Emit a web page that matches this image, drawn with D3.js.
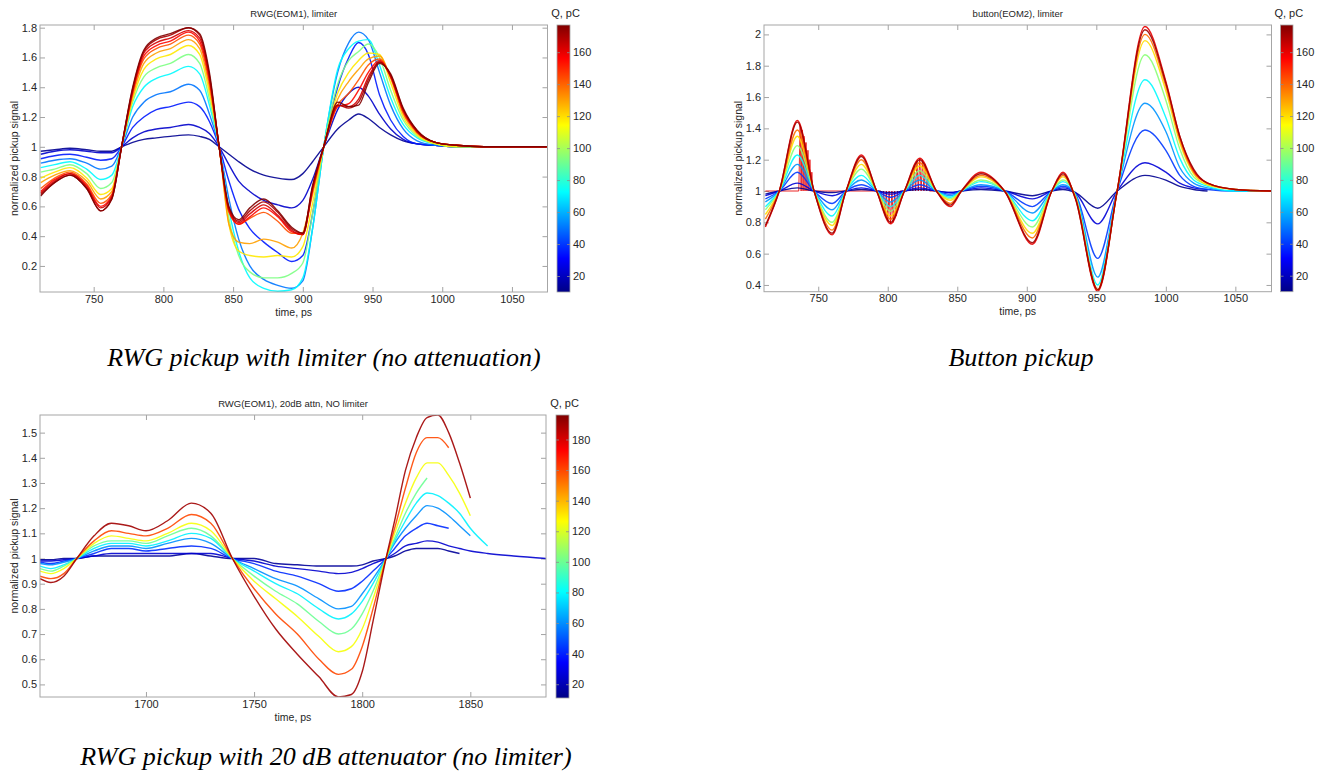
<!DOCTYPE html>
<html><head><meta charset="utf-8">
<script src="https://cdn.jsdelivr.net/npm/d3@7"></script>
<style>
body{margin:0;background:#fff}
text{font-family:"Liberation Sans",Arial,sans-serif;fill:#262626}
.cap{font-family:"Liberation Serif","Times New Roman",serif;font-style:italic;fill:#000}
</style>
</head><body><svg id="c" width="1324" height="783"></svg>
<script>
// ---------- Panel 1: RWG(EOM1), limiter ----------
const rwgLimTime = [712,722,733,745,755,763,770, 778,786,795,805,818,826,833,840, 847,854,862,872,882,892,900,907,915, 925,933,940,947,955,963,972,982, 995,1010,1030,1050,1075];
const rwgLimQ = [12,22,35,50,72,93,118,130,143,155,163,170,177];
const rwgLimSignals = [
 [0.97,0.98,0.99,0.98,0.97,0.97,1.00, 1.03,1.05,1.06,1.07,1.08,1.07,1.05,1.00, 0.95,0.90,0.85,0.81,0.79,0.78,0.82,0.90,1.00, 1.12,1.18,1.22,1.19,1.13,1.08,1.04,1.02, 1.01,1.00,1.00,null,null],
 [0.95,0.97,0.98,0.97,0.96,0.96,1.00, 1.06,1.10,1.12,1.13,1.15,1.13,1.09,1.00, 0.88,0.77,0.70,0.64,0.61,0.59,0.64,0.78,1.00, 1.25,1.36,1.40,1.34,1.22,1.12,1.05,1.02, 1.01,1.00,1.00,null,null],
 [0.92,0.94,0.95,0.93,0.91,0.92,1.00, 1.13,1.20,1.25,1.27,1.30,1.27,1.17,1.00, 0.77,0.58,0.45,0.36,0.29,0.23,0.27,0.55,1.00, 1.40,1.60,1.70,1.62,1.35,1.18,1.07,1.02, 1.01,1.00,1.00,null,null],
 [0.89,0.91,0.92,0.89,0.85,0.87,1.00, 1.20,1.30,1.35,1.37,1.42,1.38,1.22,1.00, 0.65,0.38,0.20,0.11,0.07,0.05,0.10,0.45,1.00, 1.50,1.70,1.77,1.72,1.50,1.28,1.12,1.04, 1.01,1.00,1.00,1.00,null],
 [0.86,0.88,0.90,0.85,0.78,0.81,1.00, 1.27,1.40,1.46,1.49,1.54,1.49,1.28,1.00, 0.58,0.30,0.12,0.05,0.03,0.04,0.12,0.45,1.00, 1.52,1.66,1.71,1.72,1.55,1.33,1.15,1.06, 1.02,1.00,1.00,1.00,null],
 [0.83,0.85,0.88,0.82,0.72,0.76,1.00, 1.30,1.47,1.53,1.56,1.62,1.56,1.32,1.00, 0.52,0.27,0.16,0.12,0.12,0.15,0.22,0.55,1.00, 1.42,1.58,1.64,1.69,1.60,1.38,1.18,1.07, 1.02,1.00,1.00,1.00,null],
 [0.79,0.83,0.86,0.79,0.68,0.72,1.00, 1.32,1.52,1.59,1.62,1.68,1.62,1.36,1.00, 0.48,0.30,0.27,0.26,0.27,0.26,0.33,0.62,1.00, 1.36,1.50,1.58,1.63,1.62,1.43,1.20,1.08, 1.02,1.00,1.00,1.00,null],
 [0.76,0.81,0.84,0.77,0.65,0.70,1.00, 1.34,1.56,1.63,1.66,1.72,1.66,1.40,1.00, 0.48,0.36,0.35,0.38,0.36,0.32,0.42,0.68,1.00, 1.32,1.44,1.52,1.59,1.61,1.46,1.22,1.09, 1.03,1.01,1.00,1.00,1.00],
 [0.72,0.79,0.83,0.75,0.62,0.68,1.00, 1.36,1.59,1.66,1.69,1.75,1.69,1.43,1.00, 0.56,0.48,0.52,0.56,0.50,0.42,0.42,0.70,1.00, 1.28,1.36,1.45,1.55,1.59,1.47,1.23,1.10, 1.03,1.01,1.00,1.00,1.00],
 [0.70,0.78,0.82,0.74,0.60,0.67,1.00, 1.37,1.61,1.68,1.71,1.77,1.71,1.45,1.00, 0.57,0.48,0.53,0.59,0.53,0.43,0.41,0.71,1.00, 1.27,1.29,1.38,1.50,1.58,1.47,1.24,1.10, 1.03,1.01,1.00,1.00,1.00],
 [0.69,0.77,0.82,0.73,0.59,0.66,1.00, 1.38,1.63,1.70,1.73,1.78,1.73,1.47,1.00, 0.58,0.49,0.55,0.61,0.54,0.44,0.41,0.72,1.00, 1.28,1.27,1.32,1.47,1.57,1.48,1.25,1.10, 1.03,1.01,1.00,1.00,1.00],
 [0.68,0.76,0.81,0.72,0.57,0.65,1.00, 1.39,1.64,1.72,1.75,1.80,1.75,1.48,1.00, 0.59,0.50,0.57,0.63,0.56,0.45,0.42,0.73,1.00, 1.28,1.26,1.30,1.45,1.57,1.48,1.25,1.11, 1.03,1.01,1.00,1.00,1.00],
 [0.67,0.76,0.81,0.72,0.57,0.65,1.00, 1.40,1.65,1.73,1.76,1.80,1.76,1.50,1.00, 0.60,0.51,0.59,0.65,0.57,0.46,0.42,0.74,1.00, 1.30,1.27,1.28,1.43,1.56,1.49,1.26,1.11, 1.03,1.01,1.00,1.00,1.00]
];
const rwgLimXTicks = [750,800,850,900,950,1000,1050];
const rwgLimYTicks = [0.2,0.4,0.6,0.8,1.0,1.2,1.4,1.6,1.8];
const rwgLimQTicks = [20,40,60,80,100,120,140,160];

// ---------- Panel 2: button(EOM2), limiter ----------
const buttonTime = [712,722,735,747,760,770, 781,792,802,812,823,835, 845,853,867,884,904,918, 926,935,951,965,985,1000, 1010,1020,1030,1050,1076];
const buttonQ = [12,24,40,55,72,95,120,138,160,172];
const buttonSignals = [
 [0.98,1.00,1.02,1.00,0.99,1.00, 1.01,1.00,0.99,1.00,1.01,1.00, 0.99,1.00,1.01,1.00,0.97,1.00, 1.01,0.99,0.89,1.00,1.10,1.07, 1.03,1.01,1.00,null,null],
 [0.97,1.00,1.05,1.00,0.97,1.00, 1.02,1.00,0.98,1.00,1.02,1.00, 0.99,1.00,1.02,1.00,0.95,1.00, 1.02,0.99,0.79,1.00,1.18,1.12, 1.05,1.02,1.01,null,null],
 [0.95,1.00,1.12,1.00,0.92,1.00, 1.04,1.00,0.96,1.00,1.04,1.00, 0.98,1.00,1.03,1.00,0.90,1.00, 1.03,0.98,0.57,1.00,1.39,1.26, 1.10,1.03,1.01,1.00,1.00],
 [0.93,1.00,1.17,1.00,0.88,1.00, 1.07,1.00,0.93,1.00,1.07,1.00, 0.97,1.00,1.04,1.00,0.86,1.00, 1.04,0.98,0.45,1.00,1.56,1.38, 1.15,1.05,1.02,1.00,1.00],
 [0.90,1.00,1.23,1.00,0.84,1.00, 1.10,1.00,0.90,1.00,1.10,1.00, 0.96,1.00,1.06,1.00,0.81,1.00, 1.06,0.97,0.40,1.00,1.71,1.47, 1.21,1.07,1.03,1.00,1.00],
 [0.88,1.00,1.29,1.00,0.80,1.00, 1.14,1.00,0.87,1.00,1.13,1.00, 0.95,1.00,1.07,1.00,0.77,1.00, 1.07,0.97,0.37,1.00,1.87,1.58, 1.27,1.09,1.04,1.01,1.00],
 [0.85,1.00,1.35,1.00,0.78,1.00, 1.17,1.00,0.84,1.00,1.16,1.00, 0.94,1.00,1.09,1.00,0.73,1.00, 1.09,0.96,0.37,1.00,1.96,1.64, 1.31,1.11,1.04,1.01,1.00],
 [0.82,1.00,1.39,1.00,0.75,1.00, 1.20,1.00,0.82,1.00,1.18,1.00, 0.92,1.00,1.10,1.00,0.70,1.00, 1.10,0.96,0.37,1.00,2.00,1.67, 1.33,1.12,1.05,1.01,1.00],
 [0.77,1.00,1.45,1.00,0.72,1.00, 1.23,1.00,0.79,1.00,1.21,1.00, 0.90,1.00,1.12,1.00,0.66,1.00, 1.12,0.95,0.36,1.00,2.05,1.70, 1.35,1.13,1.05,1.01,1.00],
 [0.78,1.00,1.44,1.00,0.73,1.00, 1.22,1.00,0.80,1.00,1.20,1.00, 0.91,1.00,1.11,1.00,0.67,1.00, 1.11,0.95,0.37,1.00,2.03,1.69, 1.35,1.14,1.05,1.01,1.00]
];
// limiter-clipped trace (flat with fast jumps)
const buttonClipQ = 160;
const buttonClipTime = [712,736,737,737.7,738.4,739.1,739.8,740.5,741.2,741.9,742.6,743.3,744,744.7,745.4,746,
  795,796,797,798,799,800,801,802,803,804,805,806,807,808,809,
  814,815,816,817,818,819,820,821,822,823,824,825,826,827,828,829,830,835];
const buttonClipValue = [1,1,1.42,1,1.39,1,1.35,1,1.31,1,1.26,1,1.20,1,1.12,1,
  1,0.90,1,0.85,1,0.81,1,0.79,1,0.80,1,0.84,1,0.90,1,
  1,1.06,1,1.11,1,1.16,1,1.19,1,1.21,1,1.20,1,1.17,1,1.12,1,1];
const buttonXTicks = [750,800,850,900,950,1000,1050];
const buttonYTicks = [0.4,0.6,0.8,1.0,1.2,1.4,1.6,1.8,2.0];
const buttonQTicks = [20,40,60,80,100,120,140,160];

// ---------- Panel 3: RWG(EOM1), 20dB attn, NO limiter ----------
const rwgAttTime = [1651,1656,1662,1668,1676,1684,1692,1700, 1710,1721,1730,1740, 1750,1760,1770,1780,1789,1795,1800,1805,1811, 1815,1820,1825,1830,1835,1840,1845,1850, 1858,1870,1885];
const rwgAttQ = [15,25,42,60,78,100,125,160,190];
const rwgAttSignals = [
 [0.995,0.995,1.00,1.00,1.01,1.01,1.01,1.01, 1.01,1.02,1.01,1.00, 1.00,0.98,0.975,0.97,0.97,0.97,0.975,0.99,1.00, 1.01,1.03,1.04,1.04,1.04,1.03,1.02,null, null,null,null],
 [0.99,0.99,0.995,1.00,1.01,1.02,1.02,1.02, 1.02,1.02,1.02,1.00, 0.99,0.97,0.96,0.95,0.94,0.945,0.96,0.98,1.00, 1.02,1.05,1.06,1.07,1.065,1.05,1.04,1.03, 1.02,1.01,1.00],
 [0.985,0.98,0.99,1.00,1.02,1.04,1.04,1.03, 1.04,1.05,1.04,1.00, 0.98,0.95,0.93,0.90,0.87,0.88,0.91,0.95,1.00, 1.04,1.09,1.12,1.14,1.13,1.12,null,null, null,null,null],
 [0.98,0.975,0.985,1.00,1.03,1.05,1.05,1.04, 1.06,1.08,1.06,1.00, 0.96,0.92,0.89,0.84,0.80,0.81,0.86,0.92,1.00, 1.06,1.12,1.17,1.21,1.20,1.17,1.13,1.09, null,null,null],
 [0.97,0.96,0.975,1.00,1.04,1.06,1.06,1.05, 1.07,1.10,1.08,1.00, 0.95,0.90,0.86,0.80,0.76,0.78,0.83,0.90,1.00, 1.07,1.15,1.22,1.26,1.25,1.22,1.18,1.12, 1.05,null,null],
 [0.96,0.95,0.97,1.00,1.05,1.07,1.07,1.06, 1.09,1.12,1.09,1.00, 0.93,0.87,0.82,0.75,0.70,0.72,0.78,0.87,1.00, 1.08,1.18,1.26,1.32,null,null,null,null, null,null,null],
 [0.95,0.94,0.96,1.00,1.06,1.09,1.08,1.07, 1.10,1.14,1.11,1.00, 0.91,0.84,0.77,0.69,0.63,0.65,0.72,0.84,1.00, 1.10,1.22,1.32,1.38,1.38,1.33,1.26,1.17, null,null,null],
 [0.93,0.92,0.94,1.00,1.07,1.11,1.10,1.09, 1.12,1.175,1.14,1.00, 0.88,0.78,0.70,0.60,0.54,0.56,0.65,0.80,1.00, 1.12,1.28,1.42,1.48,1.48,1.44,null,null, null,null,null],
 [0.92,0.905,0.93,1.00,1.09,1.14,1.13,1.11, 1.15,1.22,1.18,1.00, 0.85,0.72,0.62,0.53,0.45,0.46,0.55,0.75,1.00, 1.15,1.35,1.48,1.56,1.57,1.50,1.38,1.24, null,null,null]
];
const rwgAttXTicks = [1700,1750,1800,1850];
const rwgAttYTicks = [0.5,0.6,0.7,0.8,0.9,1.0,1.1,1.2,1.3,1.4,1.5];
const rwgAttQTicks = [20,40,60,80,100,120,140,160,180];

const captions = [
  {text:"RWG pickup with limiter (no attenuation)", x:324, y:366},
  {text:"Button pickup", x:1021, y:366},
  {text:"RWG pickup with 20 dB attenuator (no limiter)", x:326, y:765}
];

// ---------- drawing ----------
const svg = d3.select("#c");
const defs = svg.append("defs");
const jetStops = [0,0.125,0.375,0.625,0.875,1];
const jet = d3.scaleLinear().domain(jetStops)
  .range(["#000085","#0000ff","#00ffff","#ffff00","#ff0000","#800000"]).clamp(true);

const gradient = defs.append("linearGradient").attr("id","jetGrad")
  .attr("x1",0).attr("y1",1).attr("x2",0).attr("y2",0);
jetStops.forEach(s => gradient.append("stop").attr("offset",s).attr("stop-color",jet(s)));

const fmt = d => String(+d.toFixed(2));

function panel(p){
  const g = svg.append("g");
  const x = d3.scaleLinear().domain(p.xDomain).range([p.left,p.right]);
  const y = d3.scaleLinear().domain(p.yDomain).range([p.bottom,p.top]);
  const qn = d3.scaleLinear().domain(p.qDomain).range([0,1]);
  const clipId = "clip"+p.id;
  defs.append("clipPath").attr("id",clipId).append("rect")
    .attr("x",p.left).attr("y",p.top).attr("width",p.right-p.left).attr("height",p.bottom-p.top);

  const styleAxis = a => {
    a.select(".domain").remove();
    a.selectAll(".tick line").attr("stroke","#8c8c8c").attr("stroke-width",0.8);
    a.selectAll("text").attr("font-size",11).attr("fill","#262626")
      .attr("font-family","'Liberation Sans',Arial,sans-serif");
  };
  g.append("g").attr("transform",`translate(0,${p.bottom})`)
    .call(d3.axisBottom(x).tickValues(p.xTicks).tickSize(-5).tickPadding(3).tickFormat(fmt)).call(styleAxis);
  g.append("g").attr("transform",`translate(0,${p.top})`)
    .call(d3.axisTop(x).tickValues(p.xTicks).tickSize(-5).tickFormat("")).call(styleAxis);
  g.append("g").attr("transform",`translate(${p.left},0)`)
    .call(d3.axisLeft(y).tickValues(p.yTicks).tickSize(-5).tickPadding(3).tickFormat(fmt)).call(styleAxis);
  g.append("g").attr("transform",`translate(${p.right},0)`)
    .call(d3.axisRight(y).tickValues(p.yTicks).tickSize(-5).tickFormat("")).call(styleAxis);

  const lines = g.append("g").attr("clip-path",`url(#${clipId})`).attr("fill","none");
  const line = d3.line().defined(d => d[1] != null).x(d => x(d[0])).y(d => y(d[1])).curve(d3.curveMonotoneX);
  (p.extra||[]).forEach(e => {
    lines.append("path").attr("d", d3.line().x(d=>x(d[0])).y(d=>y(d[1]))(e.time.map((t,i)=>[t,e.values[i]])))
      .attr("stroke", jet(qn(e.q))).attr("stroke-width",1).attr("stroke-opacity",0.85);
  });
  p.series.forEach((vals,i) => {
    lines.append("path").attr("d", line(p.time.map((t,j)=>[t,vals[j]])))
      .attr("stroke", jet(qn(p.q[i]))).attr("stroke-width",1.4).attr("stroke-opacity",0.9)
      .attr("stroke-linejoin","round");
  });

  g.append("rect").attr("x",p.left).attr("y",p.top).attr("width",p.right-p.left).attr("height",p.bottom-p.top)
    .attr("fill","none").attr("stroke","#a6a6a6").attr("stroke-width",1);

  // colorbar
  g.append("rect").attr("x",p.cbLeft).attr("y",p.top).attr("width",p.cbRight-p.cbLeft).attr("height",p.cbBottom-p.top)
    .attr("fill","url(#jetGrad)").attr("stroke","#a6a6a6").attr("stroke-width",0.8);
  const qs = d3.scaleLinear().domain(p.qDomain).range([p.cbBottom,p.top]);
  g.append("g").attr("transform",`translate(${p.cbRight},0)`)
    .call(d3.axisRight(qs).tickValues(p.qTicks).tickSize(-3).tickPadding(3)).call(styleAxis);
  g.append("g").attr("transform",`translate(${p.cbLeft},0)`)
    .call(d3.axisLeft(qs).tickValues(p.qTicks).tickSize(-3).tickFormat("")).call(styleAxis);

  // texts
  g.append("text").attr("x",(p.left+p.right)/2).attr("y",p.top-8).attr("text-anchor","middle")
    .attr("font-size",9.5).text(p.title);
  g.append("text").attr("x",(p.cbLeft+p.cbRight)/2+2).attr("y",p.top-8).attr("text-anchor","middle")
    .attr("font-size",11).text("Q, pC");
  g.append("text").attr("x",(p.left+p.right)/2).attr("y",p.bottom+23.5).attr("text-anchor","middle")
    .attr("font-size",10.5).text("time, ps");
  g.append("text").attr("transform",`translate(${p.left-22},${(p.top+p.bottom)/2}) rotate(-90)`)
    .attr("text-anchor","middle").attr("font-size",10.5).text("normalized pickup signal");
}

panel({id:1, left:40, right:547.5, top:25, bottom:292, cbLeft:557, cbRight:570, cbBottom:292,
  xDomain:[711.5,1075.5], yDomain:[0.025,1.818], qDomain:[10,177],
  xTicks:rwgLimXTicks, yTicks:rwgLimYTicks, qTicks:rwgLimQTicks,
  time:rwgLimTime, series:rwgLimSignals, q:rwgLimQ, title:"RWG(EOM1), limiter"});

panel({id:2, left:764, right:1271.5, top:25, bottom:291.7, cbLeft:1280.5, cbRight:1293, cbBottom:291.7,
  xDomain:[711,1076], yDomain:[0.357,2.06], qDomain:[10,177],
  xTicks:buttonXTicks, yTicks:buttonYTicks, qTicks:buttonQTicks,
  time:buttonTime, series:buttonSignals, q:buttonQ, title:"button(EOM2), limiter",
  extra:[{time:buttonClipTime, values:buttonClipValue, q:buttonClipQ}]});

panel({id:3, left:40, right:546, top:415, bottom:697, cbLeft:556, cbRight:569, cbBottom:698,
  xDomain:[1651,1885], yDomain:[0.45,1.57], qDomain:[11,196],
  xTicks:rwgAttXTicks, yTicks:rwgAttYTicks, qTicks:rwgAttQTicks,
  time:rwgAttTime, series:rwgAttSignals, q:rwgAttQ, title:"RWG(EOM1), 20dB attn, NO limiter"});

svg.selectAll("text.cap").data(captions).enter().append("text").attr("class","cap")
  .attr("x",d=>d.x).attr("y",d=>d.y).attr("text-anchor","middle").attr("font-size",26)
  .style("font-family","'Liberation Serif','Times New Roman',serif").style("font-style","italic")
  .text(d=>d.text);
</script></body></html>
